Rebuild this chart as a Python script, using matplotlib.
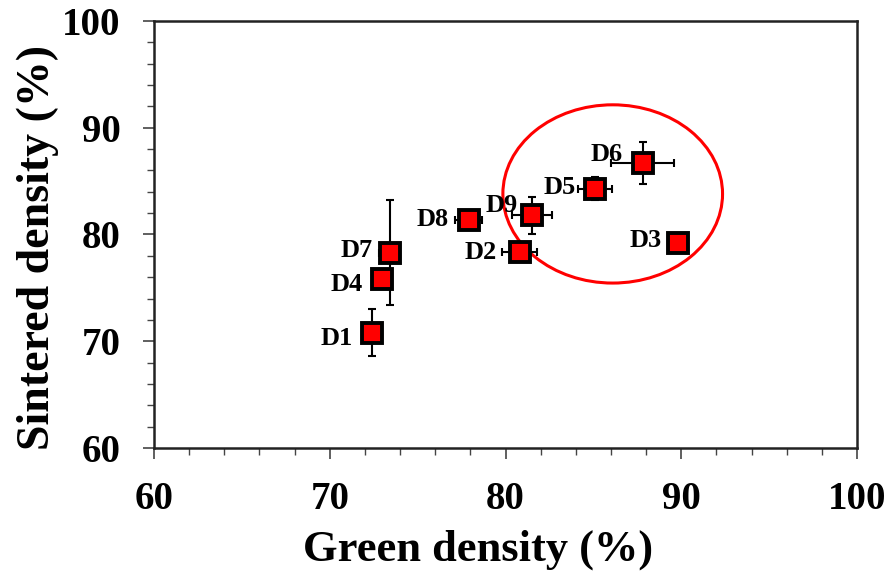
import matplotlib.pyplot as plt
from matplotlib.patches import Ellipse

labels = ['D1', 'D4', 'D7', 'D8', 'D2', 'D9', 'D5', 'D6', 'D3']
green = [72.4, 73.0, 73.4, 77.9, 80.8, 81.5, 85.1, 87.8, 89.8]
sintered = [70.8, 75.8, 78.3, 81.4, 78.4, 81.8, 84.3, 86.7, 79.2]
green_err = [0.3, 0.3, 0.6, 0.75, 1.0, 1.15, 0.95, 1.77, 0.0]
sintered_err = [2.2, 0.3, 4.9, 0.3, 0.3, 1.75, 1.1, 1.95, 0.0]

# label offsets in pixels (left of each marker)
offsets = [(-19, -6), (-20, -5), (-17, 2), (-20, 0), (-23, -1),
           (-14, 10), (-19, 1), (-20, 8), (-16, 3)]

plt.rcParams['font.family'] = ['Liberation Serif', 'DejaVu Serif']
plt.rcParams['font.weight'] = 'bold'

fig = plt.figure(figsize=(8.94, 5.79), dpi=100)
ax = fig.add_axes([0.1723, 0.2263, 0.7863, 0.7374])

ax.errorbar(green, sintered, xerr=green_err, yerr=sintered_err, fmt='none',
            ecolor='black', elinewidth=1.5, capsize=3, capthick=1.5, zorder=2)
ax.plot(green, sintered, ls='none', marker='s', markersize=14,
        markerfacecolor='red', markeredgecolor='black', markeredgewidth=2.8,
        zorder=3)

for lab, x, y, off in zip(labels, green, sintered, offsets):
    ax.annotate(lab, (x, y), xytext=off, textcoords='offset pixels',
                ha='right', va='center', fontsize=19, fontweight='bold')

ax.add_patch(Ellipse((86.1, 83.8), 12.5, 16.7, fill=False,
                     edgecolor='red', linewidth=2.2, zorder=1))

ax.set_xlim(60, 100)
ax.set_ylim(60, 100)
ax.set_xticks([60, 70, 80, 90, 100])
ax.set_yticks([60, 70, 80, 90, 100])
ax.set_xticks(range(60, 101, 2), minor=True)
ax.set_yticks(range(60, 101, 2), minor=True)
ax.tick_params(which='major', direction='out', length=8, width=1.2,
               labelsize=28, pad=16, color='#444444')
ax.tick_params(which='minor', direction='out', length=5, width=1.0,
               color='#444444')
for lab in ax.get_xticklabels() + ax.get_yticklabels():
    lab.set_fontweight('bold')
for s in ax.spines.values():
    s.set_linewidth(1.8)
    s.set_color('#222222')

ax.set_xlabel('Green density (%)', fontsize=32, fontweight='bold')
ax.set_ylabel('Sintered density (%)', fontsize=33, fontweight='bold')
ax.xaxis.set_label_coords(0.461, -0.19)
ax.yaxis.set_label_coords(-0.135, 0.47)

fig.savefig('out.png', dpi=100)
